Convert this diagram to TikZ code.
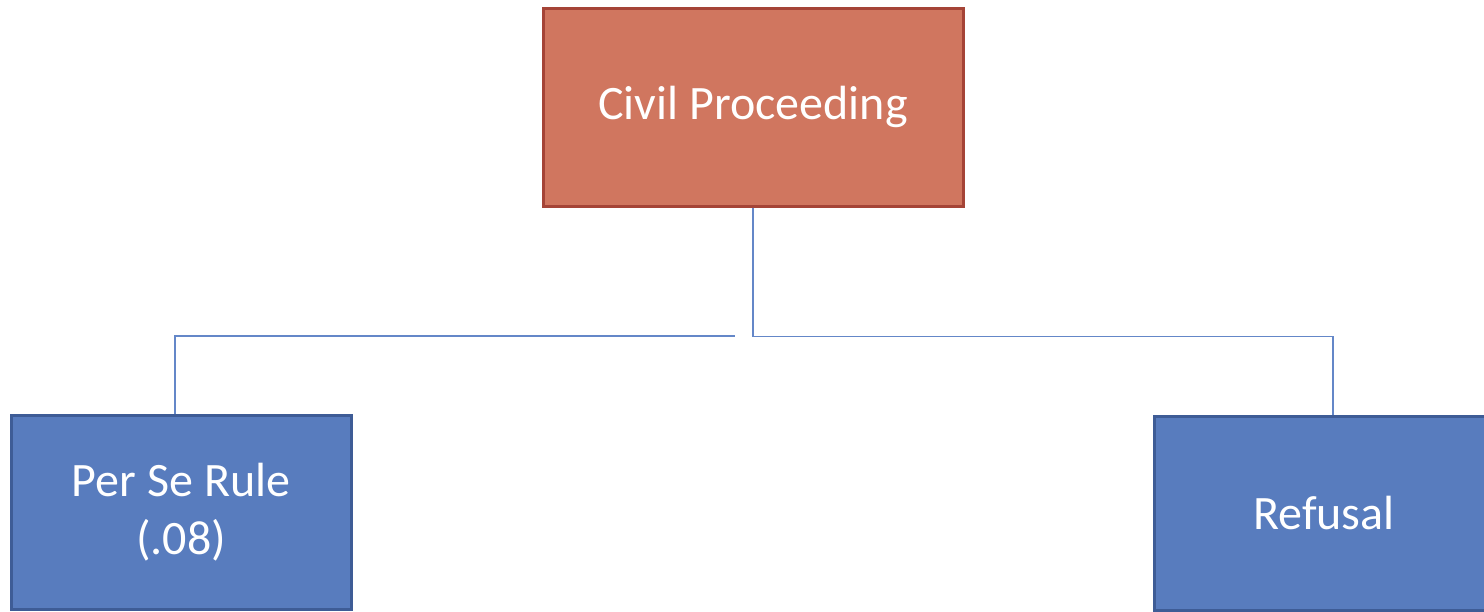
\documentclass[tikz,border=0pt]{standalone}
\usepackage{fontspec}
\setmainfont{Carlito}
\definecolor{redfill}{RGB}{208,118,95}
\definecolor{redline}{RGB}{165,68,55}
\definecolor{bluefill}{RGB}{88,124,190}
\definecolor{blueline}{RGB}{62,92,150}
\definecolor{conn}{RGB}{100,135,200}
\begin{document}
\begin{tikzpicture}[x=1pt,y=-1pt,
  box/.style={draw, line width=3pt, minimum width=#1, inner sep=0pt, text=white, align=center,
    font=\fontsize{48}{58}\selectfont},
  redbox/.style={box=420pt, fill=redfill, draw=redline, minimum height=198pt},
  bluebox/.style={box=340pt, fill=bluefill, draw=blueline, minimum height=194pt},
  link/.style={draw=conn, line width=1.5pt}]
\useasboundingbox (0,0) rectangle (1484,611);
\begin{scope}
\clip (0,0) rectangle (1484,611);
\node[redbox] (civil) at (753,107) {Civil Proceeding};
\node[bluebox] (perse) at (181,512) {Per Se Rule\\(.08)};
\node[bluebox] (refusal) at (1324,513) {Refusal};
\coordinate (gap) at (735,336);
\draw[link] (civil.south) -- ++(0,129) -| (refusal.north -| 1333,0);
\draw[link] (perse.north -| 175,0) |- (gap);
\end{scope}
\end{tikzpicture}
\end{document}
